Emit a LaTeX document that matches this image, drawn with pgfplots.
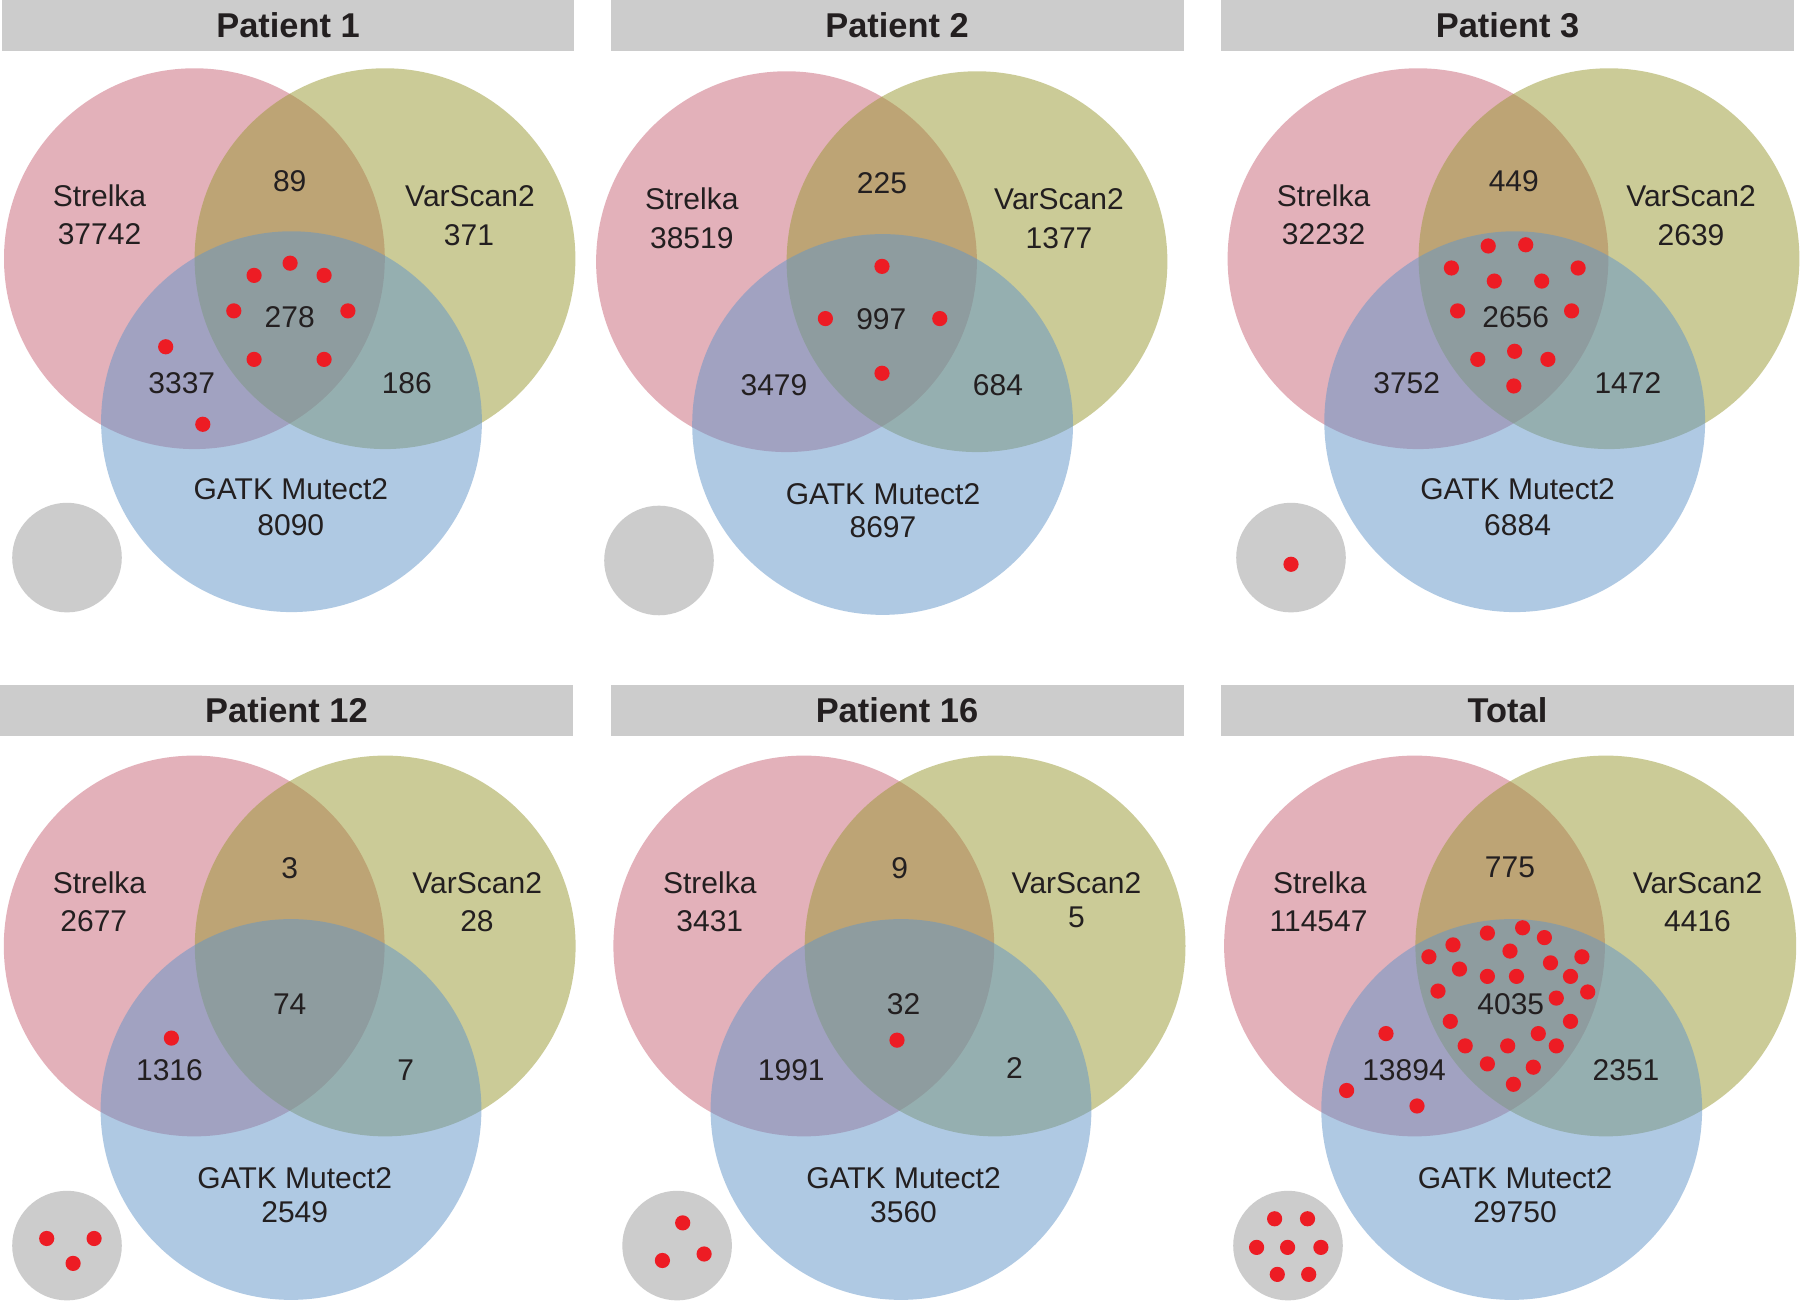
\documentclass[border=0pt]{standalone}
\usepackage{fontspec}
\setmainfont{Liberation Sans}
\usepackage{pgfplots}
\pgfplotsset{compat=1.18}
\definecolor{strel}{RGB}{201,101,119}
\definecolor{varsc}{RGB}{153,153,49}
\definecolor{gatk}{RGB}{97,149,201}
\definecolor{bargray}{RGB}{204,204,204}
\definecolor{txt}{RGB}{35,31,32}
\definecolor{dotred}{RGB}{237,28,36}
\newcommand{\lab}[3]{\node[font=\fontsize{7.5}{9}\selectfont, text=txt, inner sep=0pt] at (axis cs:#1,#2) {#3};}
\newcommand{\ttl}[3]{\node[font=\bfseries\fontsize{8.6}{10}\selectfont, text=txt, inner sep=0pt] at (axis cs:#1,#2) {#3};}
\begin{document}
\begin{tikzpicture}
\begin{axis}[width=450pt, height=325.25pt, scale only axis,
  xmin=0, xmax=1800, ymin=0, ymax=1301, y dir=reverse,
  hide axis, clip=false, clip mode=individual]
\fill[white] (axis cs:0,0) rectangle (axis cs:1800,1301);
% title bars
\fill[bargray] (axis cs:2,0) rectangle (axis cs:574,51);
\fill[bargray] (axis cs:610.7,0) rectangle (axis cs:1183.6,51);
\fill[bargray] (axis cs:1221,0) rectangle (axis cs:1794,51);
\fill[bargray] (axis cs:0,685.3) rectangle (axis cs:573,735.6);
\fill[bargray] (axis cs:610.7,685.3) rectangle (axis cs:1183.6,735.6);
\fill[bargray] (axis cs:1221,685.3) rectangle (axis cs:1794,735.6);
% Strelka circles
\addplot[only marks, mark=*, mark size=47.6pt, color=strel, mark options={line width=0pt, draw opacity=0, fill=strel, fill opacity=0.5}]
  coordinates {(194.4,258.7) (786.5,261.7) (1418,258.7) (194.2,946) (803.8,946) (1414.5,946)};
% VarScan2 circles
\addplot[only marks, mark=*, mark size=47.6pt, color=varsc, mark options={line width=0pt, draw opacity=0, fill=varsc, fill opacity=0.5}]
  coordinates {(385,258.7) (977,261.7) (1609,258.7) (385.2,946) (995.1,946) (1605.8,946)};
% GATK circles
\addplot[only marks, mark=*, mark size=47.6pt, color=gatk, mark options={line width=0pt, draw opacity=0, fill=gatk, fill opacity=0.5}]
  coordinates {(291.5,421.7) (882.6,424.5) (1514.7,421.7) (291,1109.5) (901,1109.5) (1511.7,1109.5)};
% gray circles
\addplot[only marks, mark=*, mark size=13.7pt, color=bargray, mark options={line width=0pt, draw opacity=0, fill=bargray}]
  coordinates {(67,557.6) (659,560.5) (1291,557.6) (67,1245.6) (677.1,1245.6) (1288,1245.6)};
% red dots
\addplot[only marks, mark=*, mark size=1.9pt, color=dotred, mark options={line width=0pt, draw opacity=0, fill=dotred}]
  coordinates {
  (290.1,263.2) (254.1,275.4) (324.1,275.4) (233.8,310.9) (347.9,310.9) (254.1,359.4) (324.1,359.4) (165.7,346.8) (202.8,424.3)
  (882,266.4) (825.4,318.6) (939.8,318.6) (882,373.3)
  (1488.2,246) (1525.7,244.8) (1451.4,268) (1494.3,281.1) (1541.7,281.1) (1578.1,268) (1457.6,310.9) (1571.6,310.9) (1514.6,351.3) (1477.8,359.4) (1547.9,359.4) (1513.8,386)
  (1291,564.3)
  (171.4,1038.1) (46.7,1238.5) (94.1,1238.5) (73.1,1263.4)
  (897,1040.2) (682.7,1222.9) (662.4,1260.5) (704.1,1254)
  (1487.4,933.1) (1522.6,927.8) (1544.4,937.6) (1453.0,944.9) (1510.0,951.1) (1428.9,956.8) (1581.9,956.8) (1459.5,969.1) (1550.5,962.9) (1487.4,976.4) (1516.5,976.4) (1570.5,976.4) (1438.0,991.1) (1587.7,992.0) (1556.3,998.1) (1450.3,1021.4) (1570.5,1021.4) (1538.3,1033.6) (1465.2,1045.9) (1507.7,1045.9) (1556.3,1045.9) (1487.4,1063.9) (1533.3,1067.2) (1513.4,1084.3)
  (1386.0,1033.6) (1346.6,1090.5) (1417.0,1106.0)
  (1274.6,1218.8) (1307.5,1218.8) (1256.6,1247.4) (1287.6,1247.4) (1320.9,1247.4) (1277.3,1274.4) (1308.7,1274.4)
  };
\ttl{288}{25.5}{Patient 1}
\ttl{897}{25.5}{Patient 2}
\ttl{1507.5}{25.5}{Patient 3}
\ttl{286.5}{710.5}{Patient 12}
\ttl{897}{710.5}{Patient 16}
\ttl{1507.5}{710.5}{Total}
% Panel 1 labels
\lab{99.5}{196}{Strelka}\lab{99.5}{234.6}{37742}
\lab{289.7}{180.7}{89}
\lab{470}{196}{VarScan2}\lab{469}{235}{371}
\lab{289.7}{317}{278}
\lab{181.8}{383.5}{3337}
\lab{406.8}{383.5}{186}
\lab{290.8}{489.6}{GATK Mutect2}\lab{290.8}{525}{8090}
% Panel 2
\lab{691.8}{198.7}{Strelka}\lab{691.8}{237.9}{38519}
\lab{882}{182.8}{225}
\lab{1059}{198.7}{VarScan2}\lab{1059}{237.9}{1377}
\lab{881.3}{319.5}{997}
\lab{774}{385.6}{3479}
\lab{998}{385.6}{684}
\lab{883}{493.7}{GATK Mutect2}\lab{883}{527}{8697}
% Panel 3
\lab{1323.6}{196}{Strelka}\lab{1323.6}{234.6}{32232}
\lab{1513.8}{180.7}{449}
\lab{1691}{196}{VarScan2}\lab{1691}{235}{2639}
\lab{1515.7}{317.4}{2656}
\lab{1406.7}{383.5}{3752}
\lab{1627.9}{383.5}{1472}
\lab{1517.6}{489.6}{GATK Mutect2}\lab{1517.6}{525}{6884}
% Panel 12
\lab{99.5}{882.8}{Strelka}\lab{93.8}{921.6}{2677}
\lab{289.7}{867.7}{3}
\lab{477.2}{882.8}{VarScan2}\lab{477}{921.6}{28}
\lab{289.7}{1004.6}{74}
\lab{169.5}{1070}{1316}
\lab{405.7}{1070}{7}
\lab{294.7}{1178}{GATK Mutect2}\lab{294.7}{1211.9}{2549}
% Panel 16
\lab{709.8}{882.8}{Strelka}\lab{709.8}{921.6}{3431}
\lab{899.7}{867.7}{9}
\lab{1076.5}{882.8}{VarScan2}\lab{1076.5}{917.5}{5}
\lab{903.5}{1004.6}{32}
\lab{791.3}{1070}{1991}
\lab{1014.5}{1068}{2}
\lab{903.5}{1178}{GATK Mutect2}\lab{903.5}{1211.9}{3560}
% Total
\lab{1319.8}{882.8}{Strelka}\lab{1318.6}{921.6}{114547}
\lab{1510}{867.7}{775}
\lab{1697.5}{882.8}{VarScan2}\lab{1697.5}{921.6}{4416}
\lab{1510.8}{1004.6}{4035}
\lab{1404}{1070}{13894}
\lab{1626}{1070}{2351}
\lab{1515}{1178}{GATK Mutect2}\lab{1515}{1211.9}{29750}
\end{axis}
\end{tikzpicture}
\end{document}
